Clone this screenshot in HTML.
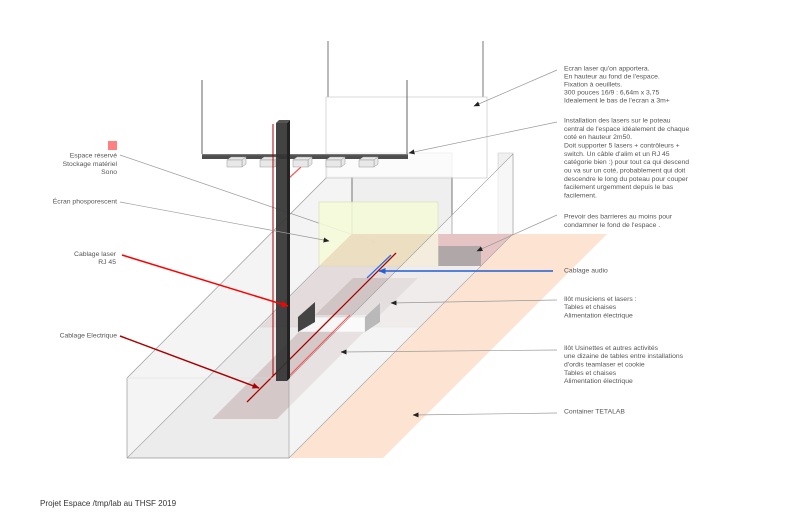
<!DOCTYPE html>
<html><head><meta charset="utf-8"><style>
html,body{margin:0;padding:0;background:#fff;}
svg{display:block;}
text{font-family:"Liberation Sans",sans-serif;fill:#555;font-size:6.8px;}
</style></head><body>
<svg width="800" height="520" viewBox="0 0 800 520" xmlns="http://www.w3.org/2000/svg">
<defs>
<marker id="a" markerWidth="6" markerHeight="5" refX="5.5" refY="2.5" orient="auto" markerUnits="userSpaceOnUse"><path d="M0,0 L6,2.5 L0,5z" fill="#222"/></marker>
<marker id="ag" markerWidth="6" markerHeight="5" refX="5.5" refY="2.5" orient="auto" markerUnits="userSpaceOnUse"><path d="M0,0 L6,2.5 L0,5z" fill="#999"/></marker>
<marker id="ar" markerWidth="7" markerHeight="6" refX="6.5" refY="3" orient="auto" markerUnits="userSpaceOnUse"><path d="M0,0 L7,3 L0,6z" fill="#f00"/></marker>
<marker id="adr" markerWidth="7" markerHeight="6" refX="6.5" refY="3" orient="auto" markerUnits="userSpaceOnUse"><path d="M0,0 L7,3 L0,6z" fill="#a00"/></marker>
<marker id="ab" markerWidth="7" markerHeight="6" refX="6.5" refY="3" orient="auto" markerUnits="userSpaceOnUse"><path d="M0,0 L7,3 L0,6z" fill="#1f5fd8"/></marker>
</defs>

<!-- left wall -->
<polygon points="127,378 327,177 352,177 352,234 127,458" fill="#f4f4f4"/>
<line x1="127" y1="378" x2="327" y2="177" stroke="#999" stroke-width="0.7"/>
<!-- back -->
<rect x="327" y="153" width="125" height="24" fill="#f8f8f8" stroke="#e2e2e2" stroke-width="0.7"/>
<rect x="352" y="177" width="100" height="57" fill="#efefef"/>
<line x1="352" y1="177" x2="352" y2="234" stroke="#555" stroke-width="0.8"/>
<line x1="452" y1="177" x2="452" y2="234" stroke="#555" stroke-width="0.8"/>
<rect x="498" y="153" width="15" height="81" fill="#f0f0f0" stroke="#ccc" stroke-width="0.6"/>
<!-- floor -->
<polygon points="127,458 289,458 513,234 352,234" fill="#ececec"/>
<line x1="127" y1="458" x2="352" y2="234" stroke="#999" stroke-width="0.6"/>
<!-- barrier -->
<polygon points="438,234 513,234 481,266 438,266" fill="#d49494"/>
<rect x="438" y="246" width="43" height="20" fill="#706262"/>
<!-- zones -->
<polygon points="320,266 478,266 427,327 260,327" fill="#e4dcdc"/>
<line x1="260" y1="327" x2="427" y2="327" stroke="#d0d0d0" stroke-width="0.5"/>
<polygon points="353,278 418,278 380,315 315,315" fill="#d0c4c4"/>
<polygon points="212,419 277,419 368,328 303,328" fill="#d4c8c8"/>
<!-- tables -->
<rect x="298" y="317" width="67" height="15" fill="#f6f6f6" stroke="#cfcfcf" stroke-width="0.5"/>
<polygon points="298,317 315,302 315,322 298,332" fill="#444"/>
<polygon points="365,317 380,303 380,322 365,332" fill="#808080"/>
<!-- espace line (behind screen) -->
<line x1="120" y1="155" x2="377" y2="243" stroke="#999" stroke-width="0.7" marker-end="url(#ag)"/>
<!-- phosphor screen -->
<rect x="319" y="202" width="119" height="64" fill="#f5fad8" fill-opacity="0.88" stroke="#d5d9b5" stroke-width="0.6"/>
<polygon points="319,266 352,234 438,234 438,266" fill="#ead8ba" fill-opacity="0.8"/>
<!-- cables on floor -->
<line x1="247" y1="402" x2="396" y2="253" stroke="#a00" stroke-width="1.3"/>
<line x1="273" y1="124" x2="273" y2="376" stroke="#a00" stroke-width="1"/>
<polyline points="301,167 289,178 289,376 350,315" fill="none" stroke="#ff5555" stroke-width="1.2"/>
<line x1="367" y1="278" x2="391" y2="255" stroke="#2a6fdc" stroke-width="1.3"/>
<!-- right wall translucent -->
<polygon points="289,378 513,154 513,234 289,458" fill="#fff" fill-opacity="0.45" stroke="#999" stroke-width="0.6"/>
<!-- peach -->
<polygon points="289,458 383,458 607,234 513,234" fill="#fde4d2"/>
<line x1="289" y1="458" x2="513" y2="234" stroke="#aaa" stroke-width="0.6"/>
<!-- front face -->
<line x1="127" y1="378" x2="127" y2="458" stroke="#999" stroke-width="0.7"/>
<line x1="127" y1="458" x2="289" y2="458" stroke="#999" stroke-width="0.7"/>
<line x1="127" y1="378" x2="289" y2="378" stroke="#ddd" stroke-width="0.5"/>
<!-- hanging screen -->
<line x1="328" y1="41" x2="328" y2="97" stroke="#555" stroke-width="0.8"/>
<line x1="483" y1="41" x2="483" y2="97" stroke="#555" stroke-width="0.8"/>
<rect x="326" y="97" width="161" height="81" fill="#fff" fill-opacity="0.4" stroke="#c8c8c8" stroke-width="0.7"/>
<!-- laser bar -->
<line x1="202" y1="80" x2="202" y2="154" stroke="#555" stroke-width="0.9"/>
<line x1="407" y1="80" x2="407" y2="154" stroke="#555" stroke-width="0.9"/>
<rect x="202" y="154" width="206" height="5" fill="#4d4d4d"/>
<rect x="202" y="154" width="206" height="1.2" fill="#777"/>
<!-- laser boxes -->
<g fill="#e8e8e8" stroke="#999" stroke-width="0.5">
<polygon points="227,160 231,157 246,157 242,160"/><polygon points="242,160 246,157 246,164 242,167"/><rect x="227" y="160" width="15" height="7"/>
<polygon points="260,160 264,157 279,157 275,160"/><polygon points="275,160 279,157 279,164 275,167"/><rect x="260" y="160" width="15" height="7"/>
<polygon points="293,160 297,157 312,157 308,160"/><polygon points="308,160 312,157 312,164 308,167"/><rect x="293" y="160" width="15" height="7"/>
<polygon points="326,160 330,157 345,157 341,160"/><polygon points="341,160 345,157 345,164 341,167"/><rect x="326" y="160" width="15" height="7"/>
<polygon points="359,160 363,157 378,157 374,160"/><polygon points="374,160 378,157 378,164 374,167"/><rect x="359" y="160" width="15" height="7"/>
</g>
<!-- pole -->
<rect x="276" y="123" width="11" height="258" fill="#333" fill-opacity="0.92"/>
<polygon points="276,123 279,120 290,120 287,123" fill="#555"/>
<polygon points="287,123 290,120 290,378 287,381" fill="#222"/>
<line x1="273" y1="124" x2="273" y2="376" stroke="#a00" stroke-width="1"/>

<!-- annotation lines -->
<g stroke="#999" stroke-width="0.7" fill="none">
<line x1="557" y1="70" x2="474" y2="106" marker-end="url(#a)"/>
<line x1="557" y1="122" x2="409" y2="153" marker-end="url(#a)"/>
<line x1="557" y1="215" x2="477" y2="251" marker-end="url(#a)"/>
<line x1="557" y1="300" x2="391" y2="303" marker-end="url(#a)"/>
<line x1="557" y1="350" x2="341" y2="352" marker-end="url(#a)"/>
<line x1="557" y1="413" x2="413" y2="415" marker-end="url(#a)"/>
<line x1="120" y1="202" x2="329" y2="241" marker-end="url(#a)"/>
</g>
<line x1="122" y1="255" x2="288" y2="306" stroke="#f00" stroke-width="1.5" marker-end="url(#ar)"/>
<line x1="120" y1="336" x2="259" y2="388" stroke="#a00" stroke-width="1.5" marker-end="url(#adr)"/>
<line x1="553" y1="271" x2="379" y2="271" stroke="#1f5fd8" stroke-width="1.6" marker-end="url(#ab)"/>

<rect x="108" y="141" width="9" height="9" fill="#ff8080"/>

<!-- left labels -->
<g text-anchor="end">
<text x="117" y="157.5">Espace réservé</text>
<text x="117" y="165.8">Stockage matériel</text>
<text x="117" y="174">Sono</text>
<text x="117" y="203.5">Écran phosporescent</text>
<text x="116" y="255.8">Cablage laser</text>
<text x="116" y="264">RJ 45</text>
<text x="117" y="337.5">Cablage Electrique</text>
</g>

<!-- right labels -->
<g>
<text x="564" y="70.5">Ecran laser qu'on apportera.</text>
<text x="564" y="78.5">En hauteur au fond de l'espace.</text>
<text x="564" y="86.5">Fixation à oeuillets.</text>
<text x="564" y="94.5">300 pouces 16/9 : 6,64m x 3,75</text>
<text x="564" y="102.5">Idealement le bas de l'ecran a 3m+</text>

<text x="564" y="122.5">Installation des lasers sur le poteau</text>
<text x="564" y="130.8">central de l'espace idéalement de chaque</text>
<text x="564" y="139.2">coté en hauteur 2m50.</text>
<text x="564" y="147.5">Doit supporter 5 lasers + contrôleurs +</text>
<text x="564" y="155.8">switch. Un câble d'alim et un RJ 45</text>
<text x="564" y="164.2">catégorie bien :)  pour tout ca qui descend</text>
<text x="564" y="172.5">ou va sur un coté, probablement qui doit</text>
<text x="564" y="180.8">descendre le long du poteau pour couper</text>
<text x="564" y="189.2">facilement urgemment depuis le bas</text>
<text x="564" y="197.5">facilement.</text>

<text x="564" y="218.5">Prevoir des barrieres au moins pour</text>
<text x="564" y="227">condamner le fond de l'espace .</text>

<text x="564" y="272.5">Cablage audio</text>

<text x="564" y="301">Ilôt musiciens et lasers :</text>
<text x="564" y="309.2">Tables et chaises</text>
<text x="564" y="317.5">Alimentation électrique</text>

<text x="564" y="349.8">Ilôt Usinettes et autres activités</text>
<text x="564" y="358.1">une dizaine de tables entre installations</text>
<text x="564" y="366.5">d'ordis teamlaser et cookie</text>
<text x="564" y="374.8">Tables et chaises</text>
<text x="564" y="383.2">Alimentation électrique</text>

<text x="564" y="413.5">Container TETALAB</text>
</g>

<text x="40" y="506" style="font-size:8.1px;fill:#333;">Projet Espace /tmp/lab au THSF 2019</text>
</svg>
</body></html>
